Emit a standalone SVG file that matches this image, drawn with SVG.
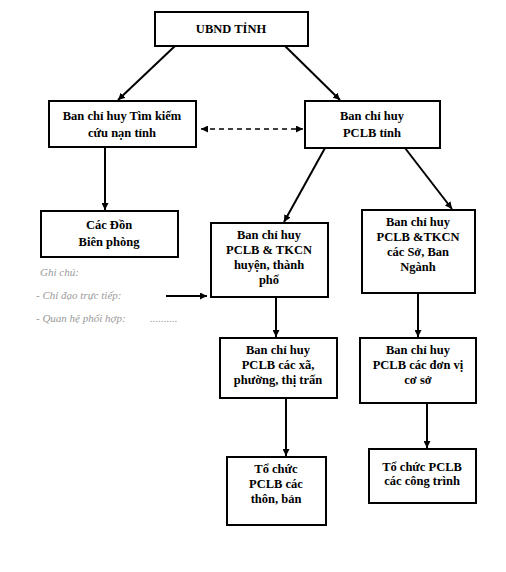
<svg xmlns="http://www.w3.org/2000/svg" width="506" height="572" viewBox="0 0 506 572">
<defs>
<marker id="ah" viewBox="0 0 10 10" refX="10" refY="5" markerWidth="7" markerHeight="7" orient="auto-start-reverse" markerUnits="userSpaceOnUse">
<path d="M0,0 L10,5 L0,10 z" fill="#000"/>
</marker>
<style>
.box{fill:#fff;stroke:#000;stroke-width:2}
.t{font-family:"Liberation Serif","Times New Roman",serif;font-size:12.5px;font-weight:bold;text-anchor:middle;fill:#000}
.leg{font-family:"Liberation Serif","Times New Roman",serif;font-size:11px;font-style:italic;fill:#999}
.c{stroke:#000;stroke-width:2;fill:none;marker-end:url(#ah)}
</style>
</defs>
<rect width="506" height="572" fill="#fff"/>
<g id="connectors">
<line class="c" x1="175" y1="46" x2="118" y2="100"/>
<line class="c" x1="285" y1="46" x2="340" y2="100"/>
<line x1="201" y1="129" x2="303" y2="129" stroke="#000" stroke-width="1.5" stroke-dasharray="5,4" marker-start="url(#ah)" marker-end="url(#ah)"/>
<line class="c" x1="105" y1="147" x2="105" y2="210"/>
<line class="c" x1="325" y1="148" x2="284" y2="222"/>
<line class="c" x1="405" y1="148" x2="452" y2="209"/>
<line class="c" x1="276" y1="297" x2="276" y2="337"/>
<line class="c" x1="418" y1="293" x2="418" y2="337"/>
<line class="c" x1="286" y1="398" x2="286" y2="456"/>
<line class="c" x1="427" y1="403" x2="427" y2="448"/>
<line class="c" x1="166" y1="296" x2="207" y2="296"/>
</g>
<g id="ubnd"><rect class="box" x="155" y="12" width="153" height="34"/><text class="t" x="231" y="33" font-size="10">UBND TỈNH</text></g>
<g id="timkiem"><rect class="box" x="49" y="101" width="147" height="46"/><text class="t" x="122" y="120">Ban chỉ huy Tìm kiếm</text><text class="t" x="122" y="137">cứu nạn tỉnh</text></g>
<g id="pclbtinh"><rect class="box" x="305" y="101" width="135" height="47"/><text class="t" x="372" y="120">Ban chỉ huy</text><text class="t" x="372" y="137">PCLB tỉnh</text></g>
<g id="don"><rect class="box" x="41" y="211" width="137" height="46"/><text class="t" x="109" y="229">Các Đồn</text><text class="t" x="109" y="246">Biên phòng</text></g>
<g id="huyen"><rect class="box" x="211" y="223" width="117" height="74"/><text class="t" x="269" y="239">Ban chỉ huy</text><text class="t" x="269" y="254">PCLB &amp; TKCN</text><text class="t" x="269" y="269">huyện, thành</text><text class="t" x="269" y="284">phố</text></g>
<g id="so"><rect class="box" x="362" y="210" width="113" height="83"/><text class="t" x="418" y="226">Ban chỉ huy</text><text class="t" x="418" y="241">PCLB &amp;TKCN</text><text class="t" x="418" y="256">các Sở, Ban</text><text class="t" x="418" y="271">Ngành</text></g>
<g id="xa"><rect class="box" x="220" y="338" width="117" height="60"/><text class="t" x="278" y="354">Ban chỉ huy</text><text class="t" x="278" y="369">PCLB các xã,</text><text class="t" x="278" y="384">phường, thị trấn</text></g>
<g id="donvi"><rect class="box" x="360" y="338" width="116" height="65"/><text class="t" x="418" y="354">Ban chỉ huy</text><text class="t" x="418" y="369">PCLB các đơn vị</text><text class="t" x="418" y="384">cơ sở</text></g>
<g id="thon"><rect class="box" x="227" y="457" width="99" height="68"/><text class="t" x="276" y="473">Tổ chức</text><text class="t" x="276" y="488">PCLB các</text><text class="t" x="276" y="503">thôn, bản</text></g>
<g id="congtrinh"><rect class="box" x="369" y="449" width="107" height="54"/><text class="t" x="422" y="471">Tổ chức PCLB</text><text class="t" x="422" y="485">các công trình</text></g>
<g id="legend">
<text class="leg" x="40" y="276">Ghi chú:</text>
<text class="leg" x="36" y="299">- Chỉ đạo trực tiếp:</text>
<text class="leg" x="36" y="322">- Quan hệ phối hợp:</text>
<text class="leg" x="150" y="322">..........</text>
</g>
</svg>
